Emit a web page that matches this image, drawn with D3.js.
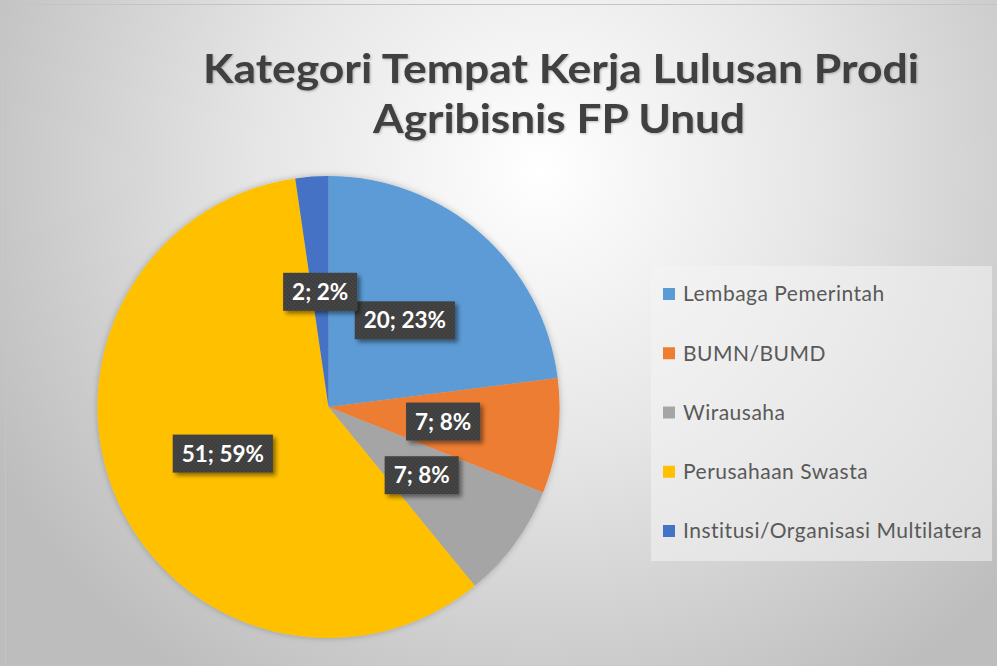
<!DOCTYPE html>
<html>
<head>
<meta charset="utf-8">
<script src="https://cdn.jsdelivr.net/npm/d3@7"></script>
<style>
html,body{margin:0;padding:0;background:#fff;}
svg{display:block;}
</style>
</head>
<body>
<svg id="chart" width="997" height="666"></svg>
<script>
const categories = ["Lembaga Pemerintah","BUMN/BUMD","Wirausaha","Perusahaan Swasta","Institusi/Organisasi Multilatera"];
const values = [20, 7, 7, 51, 2];
const colors = ["#5B9BD5","#ED7D31","#A5A5A5","#FFC000","#4472C4"];
const titleLines = ["Kategori Tempat Kerja Lulusan Prodi","Agribisnis FP Unud"];

const W = 997, H = 666;
const svg = d3.select("#chart");
const defs = svg.append("defs");

const bg = defs.append("radialGradient").attr("id","bg")
  .attr("gradientUnits","userSpaceOnUse")
  .attr("cx",540).attr("cy",170).attr("r",620);
bg.append("stop").attr("offset","0%").attr("stop-color","#ffffff");
bg.append("stop").attr("offset","45%").attr("stop-color","#e6e6e6");
bg.append("stop").attr("offset","100%").attr("stop-color","#bdbdbd");

const pat = defs.append("pattern").attr("id","dots")
  .attr("width",4).attr("height",4).attr("patternUnits","userSpaceOnUse");
pat.append("rect").attr("width",4).attr("height",4).attr("fill","#3c3c3c");
pat.append("circle").attr("cx",1).attr("cy",1).attr("r",0.8).attr("fill","#555555");
pat.append("circle").attr("cx",3).attr("cy",3).attr("r",0.8).attr("fill","#555555");

const sh = defs.append("filter").attr("id","shadow").attr("x","-20%").attr("y","-20%").attr("width","150%").attr("height","160%");
sh.append("feDropShadow").attr("dx",3).attr("dy",3).attr("stdDeviation",2).attr("flood-color","#000").attr("flood-opacity",0.45);

const psh = defs.append("filter").attr("id","pieshadow").attr("x","-10%").attr("y","-10%").attr("width","120%").attr("height","120%");
psh.append("feDropShadow").attr("dx",0).attr("dy",0).attr("stdDeviation",3).attr("flood-color","#000").attr("flood-opacity",0.25);

const tsh = defs.append("filter").attr("id","tshadow");
tsh.append("feDropShadow").attr("dx",1).attr("dy",1).attr("stdDeviation",1).attr("flood-color","#000").attr("flood-opacity",0.25);

svg.append("rect").attr("width",W).attr("height",H).attr("fill","url(#bg)");
svg.append("rect").attr("x",5.5).attr("y",4.5).attr("width",W).attr("height",H)
  .attr("fill","none").attr("stroke","#c4c4c4").attr("stroke-width",1);

// Title
const tAttrs = t => t.attr("text-anchor","middle")
  .attr("font-family","Lato, 'Open Sans', sans-serif").attr("font-weight","bold")
  .attr("font-size",41).attr("fill","#404040").attr("filter","url(#tshadow)")
  .attr("lengthAdjust","spacingAndGlyphs");
tAttrs(svg.append("text")).attr("x",561).attr("y",83).attr("textLength",716).text(titleLines[0]);
tAttrs(svg.append("text")).attr("x",559).attr("y",133).attr("textLength",372).text(titleLines[1]);

// Pie
const cx = 328.5, cy = 407, R = 231;
const total = d3.sum(values);
const pie = d3.pie().sort(null).value(d => d)(values);
const arc = d3.arc().innerRadius(0).outerRadius(R);
const g = svg.append("g").attr("transform",`translate(${cx},${cy})`);
g.append("g").attr("filter","url(#pieshadow)")
  .selectAll("path").data(pie).join("path")
  .attr("d",arc).attr("fill",(d,i)=>colors[i]);

// Labels
const lg = g.append("g");
pie.forEach((d,i)=>{
  const [x,y] = arc.centroid(d);
  const pct = Math.round(values[i]/total*100);
  const txt = `${values[i]}; ${pct}%`;
  const grp = lg.append("g").attr("transform",`translate(${x},${y})`);
  const rect = grp.append("rect").attr("fill","url(#dots)").attr("filter","url(#shadow)");
  const t = grp.append("text").attr("text-anchor","middle").attr("dy","0.36em")
    .attr("font-family","Lato, 'Open Sans', sans-serif").attr("font-weight","bold")
    .attr("font-size",22.5).attr("fill","#ffffff").text(txt);
  const w = t.node().getComputedTextLength() + 18;
  const h = 38;
  rect.attr("x",-w/2).attr("y",-h/2).attr("width",w).attr("height",h);
});

// Legend
const legend = svg.append("g");
legend.append("rect").attr("x",651).attr("y",266).attr("width",341).attr("height",295)
  .attr("fill","#f4f4f4").attr("fill-opacity",0.55);
const rowY = d3.scalePoint().domain(categories).range([294, 531]);
categories.forEach((c,i)=>{
  const y = rowY(c);
  legend.append("rect").attr("x",663).attr("y",y-6).attr("width",12).attr("height",12).attr("fill",colors[i]);
  legend.append("text").attr("x",683).attr("y",y).attr("dy","0.35em")
    .attr("font-family","Lato, 'Open Sans', sans-serif").attr("font-size",21)
    .attr("letter-spacing",0.5)
    .attr("fill","#595959").text(c);
});
</script>
</body>
</html>
